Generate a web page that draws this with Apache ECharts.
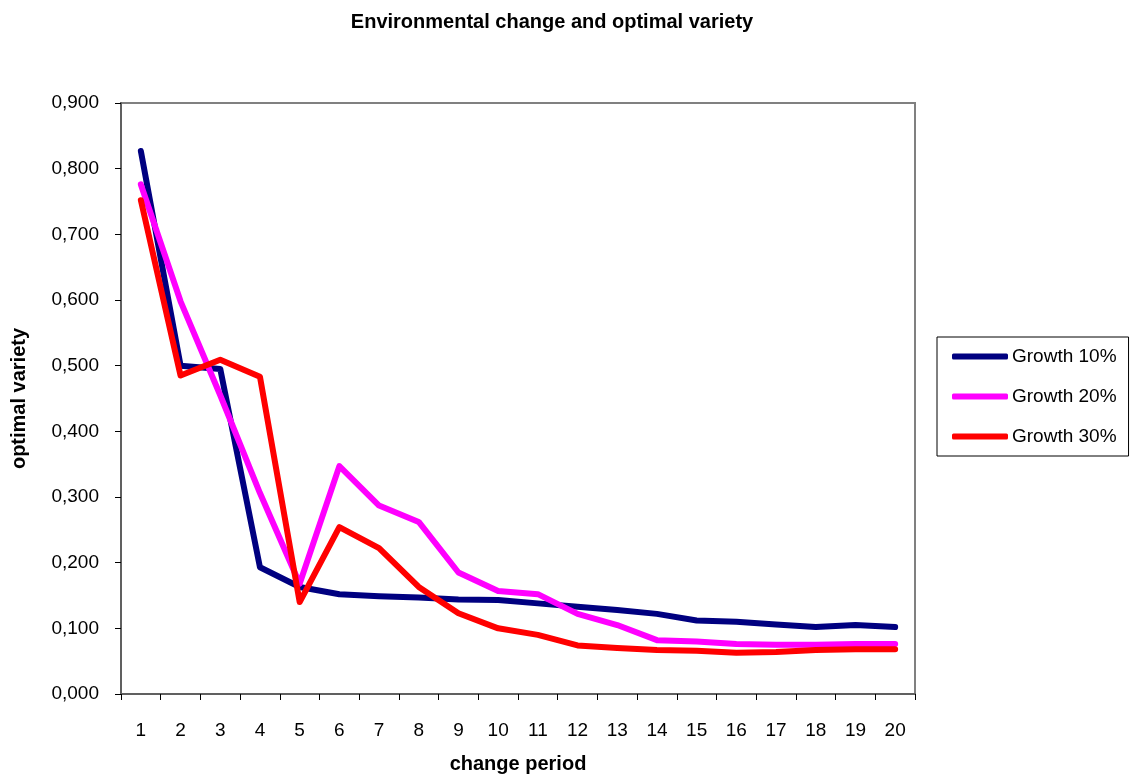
<!DOCTYPE html>
<html><head><meta charset="utf-8">
<script src="https://cdn.jsdelivr.net/npm/echarts@6/dist/echarts.min.js"></script>
<style>html,body{margin:0;padding:0;background:#fff}#c{width:1132px;height:780px}</style>
</head><body><div id="c"></div>
<script>
const categories = ['1','2','3','4','5','6','7','8','9','10','11','12','13','14','15','16','17','18','19','20'];
const growth10 = [0.827,0.500,0.495,0.193,0.163,0.152,0.149,0.147,0.144,0.143,0.138,0.133,0.128,0.122,0.112,0.110,0.106,0.102,0.105,0.102];
const growth20 = [0.776,0.598,0.455,0.306,0.168,0.347,0.287,0.262,0.185,0.157,0.152,0.122,0.105,0.082,0.080,0.076,0.075,0.075,0.076,0.076];
const growth30 = [0.752,0.485,0.509,0.483,0.140,0.254,0.222,0.163,0.123,0.100,0.090,0.074,0.070,0.067,0.066,0.063,0.064,0.067,0.068,0.068];
const seriesNames = ['Growth 10%','Growth 20%','Growth 30%'];
const colors = ['#000080','#FF00FF','#FF0000'];

const chart = echarts.init(document.getElementById('c'), null, {renderer:'canvas'});
const font = 'Liberation Sans, Arial, sans-serif';
function mk(name, data, color){
  return {name, type:'line', data, symbol:'none', smooth:false,
    lineStyle:{color, width:6, cap:'round', join:'round'}, itemStyle:{color}};
}
chart.setOption({
  animation:false,
  title:{text:'Environmental change and optimal variety', left:547, top:7, textAlign:'center',
    textStyle:{fontFamily:font, fontSize:20, fontWeight:'bold', color:'#000'}},
  grid:{left:121, right:217, top:103, bottom:86, show:true, borderColor:'#808080', borderWidth:2, backgroundColor:'#fff'},
  legend:{orient:'vertical', left:937, top:337, padding:[10,12,10,15],
    borderColor:'#000', borderWidth:1, itemWidth:56, itemHeight:6, itemGap:21,
    icon:'roundRect', data:seriesNames,
    textStyle:{fontFamily:font, fontSize:19, color:'#000', padding:[0,0,0,-1]}},
  xAxis:{type:'category', data:categories, boundaryGap:true,
    name:'change period', nameLocation:'middle', nameGap:60,
    nameTextStyle:{fontFamily:font, fontSize:20, fontWeight:'bold', color:'#000'},
    axisLine:{lineStyle:{color:'#606060', width:2}},
    axisTick:{show:true, alignWithLabel:false, length:6, lineStyle:{color:'#000'}},
    axisLabel:{fontFamily:font, fontSize:19, color:'#000', margin:27},
    splitLine:{show:false}},
  yAxis:{type:'value', min:0, max:0.9, interval:0.1,
    name:'optimal variety', nameLocation:'middle', nameGap:92, nameRotate:90,
    nameTextStyle:{fontFamily:font, fontSize:20, fontWeight:'bold', color:'#000'},
    axisLine:{show:true, lineStyle:{color:'#606060', width:2}},
    axisTick:{show:true, length:6, lineStyle:{color:'#000'}},
    axisLabel:{fontFamily:font, fontSize:19, color:'#000', margin:22,
      formatter:v=>v.toFixed(3).replace('.',',')},
    splitLine:{show:false}},
  series:[mk(seriesNames[0],growth10,colors[0]), mk(seriesNames[1],growth20,colors[1]), mk(seriesNames[2],growth30,colors[2])]
});
</script></body></html>
